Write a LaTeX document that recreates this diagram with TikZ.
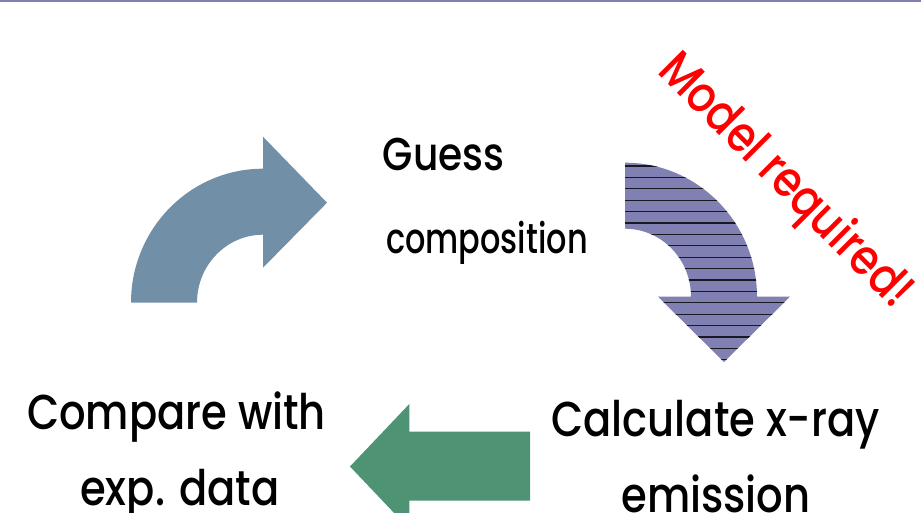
\documentclass[tikz,border=0pt]{standalone}
\usepackage{fontspec}
\setmainfont{Poppins}[FakeStretch=0.85, UprightFont=* Medium]
\newfontfamily\condfont{Poppins}[FakeStretch=0.76, UprightFont=* Medium]
\definecolor{topline}{RGB}{128,128,176}
\definecolor{bluearrow}{RGB}{113,143,166}
\definecolor{purplearrow}{RGB}{128,128,178}
\definecolor{greenarrow}{RGB}{78,148,116}
\definecolor{stripe}{RGB}{25,25,35}
\tikzset{
  bigtext/.style={font=\fontsize{49}{52}\selectfont, inner sep=0pt, anchor=base},
  smalltext/.style={inner sep=0pt, anchor=base west},
  redtext/.style={font=\fontsize{50}{54}\selectfont, text=red, inner sep=0pt, rotate=-45, anchor=base west},
}
\begin{document}
\begin{tikzpicture}[x=1pt,y=-1pt]
\useasboundingbox (0,0) rectangle (921,512);
\fill[white] (0,0) rectangle (921,512);
\fill[topline] (0,0) rectangle (921,2);
% blue curved arrow
\fill[bluearrow] (131,302.7) arc[start angle=180,end angle=270,x radius=132,y radius=134]
  -- (263,136.7) -- (327,202.7) -- (263,267.7) -- (263,234.7)
  arc[start angle=270,end angle=180,x radius=66,y radius=68] -- cycle;
% purple striped arrow
\path[fill=purplearrow] (625,162.7) arc[start angle=-90,end angle=0,x radius=132,y radius=134]
  -- (790,296.7) -- (724,362) -- (658,296.7) -- (691,296.7)
  arc[start angle=0,end angle=-90,x radius=66,y radius=68] -- cycle;
\begin{scope}
\clip (625,162.7) arc[start angle=-90,end angle=0,x radius=132,y radius=134]
  -- (790,296.7) -- (724,362) -- (658,296.7) -- (691,296.7)
  arc[start angle=0,end angle=-90,x radius=66,y radius=68] -- cycle;
\foreach \k in {0,...,17}{
  \draw[stripe, line width=1.3pt] (620,166+11.4*\k) -- (800,166+11.4*\k);
}
\end{scope}
% green arrow
\fill[greenarrow] (530,431.7) -- (409.3,431.7) -- (409.3,404) -- (350,466.5)
  -- (409.3,529) -- (409.3,500.7) -- (530,500.7) -- cycle;
% texts
\node[smalltext, font=\fontsize{46}{50}\selectfont] (guess) at (382.7,170) {Guess};
\node[smalltext, font=\condfont\fontsize{42}{46}\selectfont] (comp) at (386,253) {composition};
\node[bigtext] (compare) at (176.5,429) {Compare with};
\node[bigtext] (exp) at (180,505) {exp. data};
\node[bigtext] (calc) at (715.5,436) {Calculate x-ray};
\node[bigtext] (emis) at (716,512) {emission};
\node[redtext] (model) at (656,72) {Model required!};
\end{tikzpicture}
\end{document}
